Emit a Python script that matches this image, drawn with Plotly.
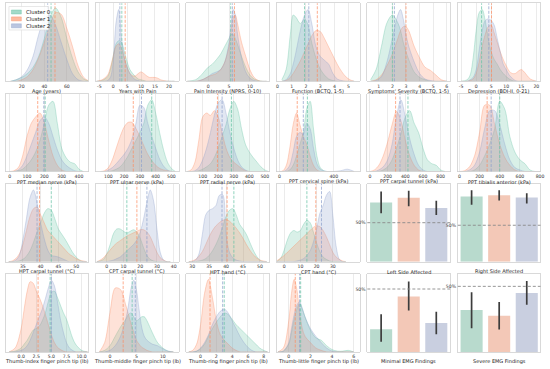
import plotly.graph_objects as go

W, H = 550, 369
CLUSTERS = ["Cluster 0", "Cluster 1", "Cluster 2"]
RGB = ["102,194,165", "252,141,98", "141,160,203"]
BAR_COLORS = ["#b8dacd", "#f3c8b7", "#c9cfe0"]

# ---------------- KDE panels (density, relative height) ----------------
LBL_01 = "Age (years)"
X_01 = [10, 15, 20, 25, 30, 35, 40, 45, 50, 55, 60, 65, 70, 75, 80]
D0_01 = [0.0, 0.02, 0.05, 0.1, 0.18, 0.32, 0.55, 0.82, 0.94, 0.82, 0.55, 0.3, 0.12, 0.03, 0.0]
D1_01 = [0.0, 0.0, 0.02, 0.06, 0.15, 0.3, 0.5, 0.72, 0.88, 0.86, 0.68, 0.45, 0.2, 0.05, 0.0]
D2_01 = [0.0, 0.02, 0.06, 0.15, 0.32, 0.6, 0.8, 0.85, 0.72, 0.5, 0.28, 0.1, 0.02, 0.0, 0.0]
M_01 = [46, 49.5, 43]
T_01 = [20, 40, 60]
R_01 = [5.5, 79]

LBL_02 = "Years with Pain"
X_02 = [-6, -4, -2, -1, 0, 1, 2, 3, 4, 5, 6, 7, 8, 9, 10, 11, 12, 13, 14, 15, 16, 17, 18, 20, 22]
D0_02 = [0, 0.01, 0.06, 0.15, 0.32, 0.48, 0.52, 0.5, 0.38, 0.25, 0.15, 0.1, 0.06, 0.03, 0.02, 0.01, 0, 0, 0, 0, 0, 0, 0, 0, 0]
D1_02 = [0, 0.02, 0.08, 0.18, 0.32, 0.45, 0.48, 0.42, 0.3, 0.18, 0.1, 0.07, 0.07, 0.1, 0.12, 0.1, 0.07, 0.05, 0.05, 0.05, 0.04, 0.02, 0.01, 0, 0]
D2_02 = [0, 0, 0.01, 0.05, 0.25, 0.75, 0.92, 0.55, 0.3, 0.18, 0.1, 0.05, 0.02, 0.01, 0, 0, 0, 0, 0, 0, 0, 0, 0, 0, 0]
M_02 = [3.1, 4.3, 2.4]
T_02 = [-5, 0, 5, 10, 15, 20]
R_02 = [-6.2, 23.5]

LBL_03 = "Pain Intensity (NPRS, 0-10)"
X_03 = [-5, -3, -2, -1, 0, 1, 2, 3, 4, 5, 5.5, 6, 6.5, 7, 7.5, 8, 9, 10, 11, 12, 13, 14]
D0_03 = [0, 0.02, 0.06, 0.12, 0.18, 0.22, 0.28, 0.35, 0.45, 0.55, 0.6, 0.6, 0.55, 0.48, 0.4, 0.32, 0.18, 0.08, 0.03, 0.01, 0, 0]
D1_03 = [0, 0, 0.01, 0.03, 0.06, 0.08, 0.1, 0.15, 0.25, 0.45, 0.65, 0.82, 0.85, 0.75, 0.62, 0.5, 0.32, 0.15, 0.05, 0.01, 0, 0]
D2_03 = [0, 0, 0.01, 0.03, 0.06, 0.1, 0.12, 0.15, 0.25, 0.5, 0.75, 0.92, 0.85, 0.62, 0.45, 0.3, 0.12, 0.04, 0.01, 0, 0, 0]
M_03 = [5.4, 6.3, 5.8]
T_03 = [0, 5, 10]
R_03 = [-5.2, 14.6]

LBL_04 = "Function (BCTQ, 1-5)"
X_04 = [0.3, 0.6, 0.9, 1.1, 1.3, 1.6, 1.9, 2.15, 2.4, 2.7, 3.0, 3.3, 3.6, 3.9, 4.2, 4.5, 4.8, 5.1, 5.4]
D0_04 = [0.02, 0.15, 0.6, 0.85, 0.82, 0.74, 0.8, 0.72, 0.5, 0.3, 0.16, 0.08, 0.03, 0.01, 0, 0, 0, 0, 0]
D1_04 = [0, 0.01, 0.05, 0.1, 0.16, 0.26, 0.38, 0.48, 0.58, 0.65, 0.64, 0.55, 0.44, 0.33, 0.22, 0.13, 0.06, 0.02, 0]
D2_04 = [0, 0.02, 0.1, 0.22, 0.38, 0.65, 0.85, 0.92, 0.75, 0.45, 0.32, 0.27, 0.22, 0.1, 0.03, 0.01, 0, 0, 0]
M_04 = [1.9, 2.8, 2.2]
T_04 = [0, 1, 2, 3, 4, 5]
R_04 = [-0.05, 5.78]

LBL_05 = "Symptoms' Severity (BCTQ, 1-5)"
X_05 = [0.4, 0.8, 1.2, 1.6, 2.0, 2.4, 2.6, 2.8, 3.0, 3.2, 3.6, 4.0, 4.4, 4.8, 5.2, 5.6, 6.0]
D0_05 = [0.02, 0.15, 0.45, 0.75, 0.85, 0.75, 0.65, 0.5, 0.38, 0.28, 0.12, 0.05, 0.02, 0, 0, 0, 0]
D1_05 = [0, 0.02, 0.08, 0.2, 0.35, 0.55, 0.65, 0.7, 0.7, 0.65, 0.45, 0.3, 0.18, 0.14, 0.08, 0.02, 0]
D2_05 = [0, 0.01, 0.06, 0.25, 0.55, 0.85, 0.92, 0.8, 0.6, 0.45, 0.25, 0.1, 0.03, 0.01, 0, 0, 0]
M_05 = [2.0, 3.0, 2.15]
T_05 = [1, 2, 3, 4, 5, 6]
R_05 = [0.16, 6.24]

LBL_06 = "Depression (BDI-II, 0-21)"
X_06 = [-5, -3, -2, -1, 0, 1, 2, 3, 4, 5, 6, 7, 8, 9, 10, 11, 12, 13, 14, 15, 16, 17, 18, 20]
D0_06 = [0, 0.02, 0.08, 0.3, 0.65, 0.88, 0.92, 0.78, 0.55, 0.38, 0.28, 0.22, 0.15, 0.1, 0.06, 0.03, 0.01, 0, 0, 0, 0, 0, 0, 0]
D1_06 = [0, 0, 0.01, 0.03, 0.1, 0.25, 0.45, 0.6, 0.7, 0.72, 0.62, 0.5, 0.38, 0.28, 0.2, 0.13, 0.1, 0.1, 0.13, 0.15, 0.12, 0.07, 0.03, 0]
D2_06 = [0, 0, 0.02, 0.05, 0.15, 0.4, 0.65, 0.78, 0.8, 0.78, 0.72, 0.55, 0.38, 0.22, 0.15, 0.08, 0.04, 0.01, 0, 0, 0, 0, 0, 0]
M_06 = [1.8, 5.1, 4.2]
T_06 = [-5, 0, 5, 10, 15, 20]
R_06 = [-6.1, 21.4]

LBL_07 = "PPT median nerve (kPa)"
X_07 = [0, 25, 50, 75, 100, 125, 150, 175, 200, 225, 250, 275, 300, 325, 350, 375, 400, 425]
D0_07 = [0, 0, 0.01, 0.03, 0.08, 0.15, 0.25, 0.4, 0.62, 0.85, 0.9, 0.62, 0.3, 0.18, 0.12, 0.1, 0.03, 0]
D1_07 = [0, 0.01, 0.05, 0.2, 0.45, 0.62, 0.7, 0.75, 0.62, 0.4, 0.2, 0.08, 0.02, 0, 0, 0, 0, 0]
D2_07 = [0, 0, 0.02, 0.08, 0.2, 0.35, 0.5, 0.65, 0.7, 0.62, 0.45, 0.28, 0.15, 0.08, 0.04, 0.01, 0, 0]
M_07 = [205, 162, 197]
T_07 = [0, 100, 200, 300, 400]
R_07 = [-24, 453]

LBL_08 = "PPT ulnar nerve (kPa)"
X_08 = [50, 75, 100, 125, 150, 175, 200, 225, 250, 275, 300, 325, 350, 375, 400, 425, 450, 475, 500, 525]
D0_08 = [0, 0, 0, 0.01, 0.03, 0.06, 0.12, 0.2, 0.3, 0.4, 0.5, 0.62, 0.85, 0.92, 0.75, 0.5, 0.28, 0.12, 0.04, 0]
D1_08 = [0, 0.01, 0.05, 0.15, 0.3, 0.45, 0.57, 0.63, 0.63, 0.55, 0.45, 0.33, 0.22, 0.14, 0.08, 0.04, 0.02, 0.01, 0, 0]
D2_08 = [0, 0, 0.02, 0.05, 0.1, 0.16, 0.22, 0.3, 0.42, 0.62, 0.85, 0.82, 0.62, 0.45, 0.3, 0.16, 0.07, 0.02, 0, 0]
M_08 = [375, 258, 310]
T_08 = [100, 200, 300, 400, 500]
R_08 = [21, 546]

LBL_09 = "PPT radial nerve (kPa)"
X_09 = [0, 25, 50, 75, 100, 125, 150, 175, 200, 225, 250, 275, 300, 325, 350, 375, 400, 425, 450, 475, 500, 525]
D0_09 = [0, 0, 0, 0.01, 0.03, 0.06, 0.1, 0.18, 0.3, 0.45, 0.6, 0.8, 0.9, 0.8, 0.55, 0.35, 0.25, 0.18, 0.12, 0.06, 0.02, 0]
D1_09 = [0, 0.02, 0.12, 0.4, 0.7, 0.75, 0.72, 0.78, 0.7, 0.5, 0.3, 0.18, 0.12, 0.08, 0.04, 0.01, 0, 0, 0, 0, 0, 0]
D2_09 = [0, 0, 0.01, 0.05, 0.15, 0.3, 0.5, 0.72, 0.88, 0.92, 0.75, 0.5, 0.3, 0.15, 0.06, 0.02, 0, 0, 0, 0, 0, 0]
M_09 = [285, 195, 225]
T_09 = [100, 200, 300, 400, 500]
R_09 = [-5, 528]

LBL_10 = "PPT cervical spine (kPa)"
X_10 = [0, 25, 50, 75, 100, 125, 150, 175, 200, 225, 250, 275, 300, 325, 350, 400, 450, 500, 550]
D0_10 = [0, 0, 0, 0.02, 0.08, 0.2, 0.35, 0.5, 0.8, 0.9, 0.55, 0.2, 0.05, 0.01, 0, 0, 0, 0, 0]
D1_10 = [0, 0.01, 0.08, 0.3, 0.6, 0.75, 0.6, 0.45, 0.35, 0.2, 0.08, 0.02, 0, 0, 0, 0, 0, 0, 0]
D2_10 = [0, 0, 0.02, 0.08, 0.25, 0.45, 0.5, 0.48, 0.62, 0.55, 0.3, 0.1, 0.03, 0.01, 0, 0, 0.01, 0.03, 0]
M_10 = [205, 130, 175]
T_10 = [0, 400]
R_10 = [-20, 590]

LBL_11 = "PPT carpal tunnel (kPa)"
X_11 = [0, 50, 100, 150, 200, 250, 300, 350, 400, 450, 500, 550, 600, 650, 700, 750, 800, 850]
D0_11 = [0, 0, 0, 0.02, 0.06, 0.15, 0.3, 0.48, 0.7, 0.78, 0.62, 0.5, 0.3, 0.15, 0.1, 0.08, 0.02, 0]
D1_11 = [0, 0.02, 0.08, 0.2, 0.38, 0.6, 0.77, 0.65, 0.4, 0.2, 0.08, 0.02, 0, 0, 0, 0, 0, 0]
D2_11 = [0, 0, 0.02, 0.06, 0.15, 0.35, 0.7, 0.92, 0.7, 0.42, 0.22, 0.08, 0.02, 0, 0, 0, 0, 0]
M_11 = [430, 290, 340]
T_11 = [0, 200, 400, 600, 800]
R_11 = [-30, 907]

LBL_12 = "PPT tibialis anterior (kPa)"
X_12 = [0, 50, 100, 150, 200, 250, 300, 350, 400, 450, 500, 550, 600, 650, 700, 750, 800]
D0_12 = [0, 0, 0, 0.02, 0.08, 0.2, 0.35, 0.55, 0.9, 0.8, 0.45, 0.25, 0.15, 0.1, 0.02, 0, 0]
D1_12 = [0, 0.01, 0.06, 0.2, 0.5, 0.85, 0.85, 0.6, 0.35, 0.18, 0.08, 0.02, 0, 0, 0, 0, 0]
D2_12 = [0, 0, 0.02, 0.08, 0.25, 0.55, 0.78, 0.78, 0.6, 0.35, 0.15, 0.05, 0.02, 0, 0, 0, 0]
M_12 = [400, 275, 315]
T_12 = [0, 200, 400, 600, 800]
R_12 = [-16, 805]

LBL_13 = "HPT carpal tunnel (\u00b0C)"
X_13 = [31, 32, 33, 34, 35, 36, 37, 38, 39, 40, 41, 42, 43, 44, 45, 46, 47, 48, 49, 50, 51, 52, 53]
D0_13 = [0, 0, 0, 0.01, 0.03, 0.07, 0.14, 0.25, 0.38, 0.5, 0.62, 0.68, 0.66, 0.55, 0.42, 0.35, 0.28, 0.2, 0.12, 0.06, 0.02, 0, 0]
D1_13 = [0, 0.01, 0.04, 0.1, 0.22, 0.4, 0.58, 0.68, 0.7, 0.6, 0.5, 0.4, 0.35, 0.3, 0.25, 0.2, 0.15, 0.1, 0.07, 0.04, 0.02, 0.01, 0]
D2_13 = [0, 0, 0.02, 0.08, 0.28, 0.55, 0.82, 0.92, 0.75, 0.5, 0.3, 0.15, 0.08, 0.07, 0.06, 0.04, 0.02, 0, 0, 0, 0, 0, 0]
M_13 = [43, 39.7, 39]
T_13 = [35, 40, 45, 50]
R_13 = [30.1, 53.4]

LBL_14 = "CPT carpal tunnel (\u00b0C)"
X_14 = [-6, -4, -2, 0, 2, 4, 6, 8, 10, 12, 14, 16, 18, 20, 22, 24, 26, 28, 30, 32, 34, 36, 38]
D0_14 = [0, 0.01, 0.03, 0.1, 0.22, 0.36, 0.42, 0.42, 0.39, 0.37, 0.39, 0.41, 0.38, 0.3, 0.18, 0.08, 0.03, 0.01, 0, 0, 0, 0, 0]
D1_14 = [0, 0.02, 0.05, 0.1, 0.15, 0.2, 0.24, 0.27, 0.3, 0.33, 0.35, 0.37, 0.39, 0.41, 0.41, 0.38, 0.32, 0.22, 0.12, 0.05, 0.02, 0, 0]
D2_14 = [0, 0, 0, 0, 0.01, 0.02, 0.04, 0.06, 0.1, 0.14, 0.18, 0.22, 0.28, 0.38, 0.55, 0.76, 0.92, 0.78, 0.42, 0.12, 0.02, 0, 0]
M_14 = [12, 18, 24]
T_14 = [0, 10, 20, 30, 40]
R_14 = [-6.5, 43]

LBL_15 = "HPT hand (\u00b0C)"
X_15 = [29, 30, 31, 32, 33, 34, 35, 36, 37, 38, 39, 40, 41, 42, 43, 44, 45, 46, 47, 48, 49, 50, 51, 52]
D0_15 = [0, 0, 0, 0.01, 0.02, 0.04, 0.08, 0.14, 0.22, 0.32, 0.45, 0.58, 0.66, 0.68, 0.6, 0.48, 0.42, 0.35, 0.25, 0.15, 0.07, 0.02, 0, 0]
D1_15 = [0, 0.01, 0.03, 0.07, 0.13, 0.22, 0.32, 0.4, 0.46, 0.5, 0.53, 0.54, 0.52, 0.48, 0.43, 0.37, 0.3, 0.22, 0.15, 0.09, 0.05, 0.02, 0.01, 0]
D2_15 = [0, 0, 0.02, 0.1, 0.35, 0.6, 0.66, 0.68, 0.72, 0.85, 0.86, 0.35, 0.12, 0.05, 0.02, 0.01, 0, 0, 0, 0, 0, 0, 0, 0]
M_15 = [42.3, 40.3, 38.8]
T_15 = [30, 35, 40, 45, 50]
R_15 = [28.3, 52.7]

LBL_16 = "CPT hand (\u00b0C)"
X_16 = [-6, -4, -2, 0, 2, 4, 6, 8, 10, 12, 14, 16, 18, 20, 22, 24, 26, 28, 30, 32, 34, 36, 38]
D0_16 = [0, 0.01, 0.05, 0.15, 0.28, 0.37, 0.4, 0.38, 0.4, 0.48, 0.53, 0.5, 0.38, 0.24, 0.13, 0.06, 0.03, 0.01, 0, 0, 0, 0, 0]
D1_16 = [0, 0.02, 0.05, 0.08, 0.12, 0.16, 0.2, 0.24, 0.28, 0.32, 0.36, 0.4, 0.44, 0.46, 0.45, 0.4, 0.32, 0.22, 0.12, 0.06, 0.03, 0.01, 0]
D2_16 = [0, 0, 0, 0, 0, 0, 0, 0.01, 0.02, 0.04, 0.08, 0.14, 0.25, 0.42, 0.62, 0.72, 0.85, 0.9, 0.6, 0.2, 0.03, 0, 0]
M_16 = [14, 19.5, 23]
T_16 = [0, 10, 20, 30]
R_16 = [-4.5, 46.5]

LBL_17 = "Thumb-index finger pinch tip (lb)"
X_17 = [-2, -1, 0, 0.5, 1, 1.5, 2, 2.5, 3, 3.5, 4, 4.5, 5, 5.5, 6, 6.5, 7, 7.5, 8, 8.5, 9, 10, 11]
D0_17 = [0, 0.01, 0.05, 0.1, 0.15, 0.22, 0.28, 0.3, 0.33, 0.4, 0.5, 0.65, 0.76, 0.78, 0.7, 0.6, 0.5, 0.42, 0.3, 0.18, 0.1, 0.02, 0]
D1_17 = [0, 0.05, 0.3, 0.55, 0.78, 0.9, 0.88, 0.78, 0.7, 0.6, 0.48, 0.35, 0.22, 0.12, 0.06, 0.03, 0.01, 0, 0, 0, 0, 0, 0]
D2_17 = [0, 0, 0.02, 0.04, 0.08, 0.15, 0.25, 0.35, 0.45, 0.55, 0.68, 0.82, 0.92, 0.85, 0.65, 0.42, 0.25, 0.12, 0.05, 0.02, 0, 0, 0]
M_17 = [4.8, 2.8, 5.0]
T_17 = [0, 2.5, 5, 7.5, 10]
TT_17 = ["0.0", "2.5", "5.0", "7.5", "10.0"]
R_17 = [-2.6, 11.1]

LBL_18 = "Thumb-middle finger pinch tip (lb)"
X_18 = [-2, -1, 0, 1, 2, 3, 3.5, 4, 4.5, 5, 5.5, 6, 6.5, 7, 8, 9, 10, 11, 12]
D0_18 = [0, 0.02, 0.08, 0.2, 0.32, 0.42, 0.48, 0.5, 0.45, 0.4, 0.42, 0.45, 0.45, 0.4, 0.25, 0.12, 0.05, 0.01, 0]
D1_18 = [0, 0.12, 0.5, 0.82, 0.8, 0.6, 0.48, 0.36, 0.25, 0.15, 0.1, 0.06, 0.04, 0.02, 0, 0, 0, 0, 0]
D2_18 = [0, 0, 0.02, 0.08, 0.2, 0.42, 0.6, 0.82, 0.92, 0.8, 0.55, 0.32, 0.2, 0.15, 0.1, 0.08, 0.04, 0.01, 0]
M_18 = [4.2, 2.5, 4.8]
T_18 = [0, 5, 10]
R_18 = [-2.65, 13]

LBL_19 = "Thumb-ring finger pinch tip (lb)"
X_19 = [-1.5, -1, -0.5, 0, 0.5, 1, 1.5, 2, 2.5, 3, 3.5, 4, 4.5, 5, 5.5, 6, 6.5, 7, 7.5, 8, 8.5]
D0_19 = [0, 0, 0.01, 0.04, 0.1, 0.2, 0.3, 0.38, 0.45, 0.5, 0.48, 0.42, 0.35, 0.3, 0.25, 0.2, 0.15, 0.1, 0.05, 0.02, 0]
D1_19 = [0, 0.02, 0.1, 0.35, 0.75, 0.93, 0.7, 0.4, 0.22, 0.15, 0.1, 0.05, 0.02, 0, 0, 0, 0, 0, 0, 0, 0]
D2_19 = [0, 0, 0.01, 0.05, 0.12, 0.22, 0.35, 0.45, 0.52, 0.55, 0.5, 0.4, 0.3, 0.2, 0.12, 0.06, 0.02, 0, 0, 0, 0]
M_19 = [3.0, 1.2, 2.8]
T_19 = [0, 2, 4, 6, 8]
R_19 = [-1.8, 8.7]

LBL_20 = "Thumb-little finger pinch tip (lb)"
X_20 = [-1, -0.5, 0, 0.25, 0.5, 0.75, 1, 1.25, 1.5, 2, 2.5, 3, 3.5, 4, 4.5, 5, 5.5, 6]
D0_20 = [0, 0.01, 0.1, 0.25, 0.42, 0.55, 0.62, 0.55, 0.45, 0.28, 0.18, 0.15, 0.08, 0.03, 0.01, 0.01, 0.02, 0]
D1_20 = [0, 0.05, 0.4, 0.75, 0.93, 0.8, 0.5, 0.3, 0.2, 0.12, 0.05, 0.02, 0, 0, 0, 0, 0, 0]
D2_20 = [0, 0.01, 0.12, 0.3, 0.48, 0.6, 0.64, 0.56, 0.45, 0.3, 0.2, 0.12, 0.05, 0.01, 0, 0, 0, 0]
M_20 = [1.1, 0.6, 1.0]
T_20 = [0, 2, 4, 6]
R_20 = [-1.1, 6.55]

# ---------------- Bar panels (proportions with interval ends) ----------------
BAR_LABELS = ["Left Side Affected", "Right Side Affected", "Minimal EMG Findings", "Severe EMG Findings"]
LEFT_VAL = [0.76, 0.82, 0.69]
LEFT_LO = [0.62, 0.71, 0.60]
LEFT_HI = [0.90, 0.91, 0.78]
RIGHT_VAL = [0.895, 0.91, 0.88]
RIGHT_LO = [0.78, 0.84, 0.80]
RIGHT_HI = [0.98, 0.98, 0.94]
MIN_VAL = [0.18, 0.44, 0.23]
MIN_LO = [0.08, 0.33, 0.14]
MIN_HI = [0.30, 0.56, 0.32]
SEV_VAL = [0.32, 0.275, 0.45]
SEV_LO = [0.18, 0.17, 0.36]
SEV_HI = [0.455, 0.38, 0.54]
BAR_YMAX = [1.0, 1.07, 0.62, 0.595]
REF_LEVEL = 0.5

KDE = [
    (LBL_01, X_01, (D0_01, D1_01, D2_01), M_01, T_01, None, R_01),
    (LBL_02, X_02, (D0_02, D1_02, D2_02), M_02, T_02, None, R_02),
    (LBL_03, X_03, (D0_03, D1_03, D2_03), M_03, T_03, None, R_03),
    (LBL_04, X_04, (D0_04, D1_04, D2_04), M_04, T_04, None, R_04),
    (LBL_05, X_05, (D0_05, D1_05, D2_05), M_05, T_05, None, R_05),
    (LBL_06, X_06, (D0_06, D1_06, D2_06), M_06, T_06, None, R_06),
    (LBL_07, X_07, (D0_07, D1_07, D2_07), M_07, T_07, None, R_07),
    (LBL_08, X_08, (D0_08, D1_08, D2_08), M_08, T_08, None, R_08),
    (LBL_09, X_09, (D0_09, D1_09, D2_09), M_09, T_09, None, R_09),
    (LBL_10, X_10, (D0_10, D1_10, D2_10), M_10, T_10, None, R_10),
    (LBL_11, X_11, (D0_11, D1_11, D2_11), M_11, T_11, None, R_11),
    (LBL_12, X_12, (D0_12, D1_12, D2_12), M_12, T_12, None, R_12),
    (LBL_13, X_13, (D0_13, D1_13, D2_13), M_13, T_13, None, R_13),
    (LBL_14, X_14, (D0_14, D1_14, D2_14), M_14, T_14, None, R_14),
    (LBL_15, X_15, (D0_15, D1_15, D2_15), M_15, T_15, None, R_15),
    (LBL_16, X_16, (D0_16, D1_16, D2_16), M_16, T_16, None, R_16),
    (LBL_17, X_17, (D0_17, D1_17, D2_17), M_17, T_17, TT_17, R_17),
    (LBL_18, X_18, (D0_18, D1_18, D2_18), M_18, T_18, None, R_18),
    (LBL_19, X_19, (D0_19, D1_19, D2_19), M_19, T_19, None, R_19),
    (LBL_20, X_20, (D0_20, D1_20, D2_20), M_20, T_20, None, R_20),
]
BARS = [
    (BAR_LABELS[0], LEFT_VAL, LEFT_LO, LEFT_HI, BAR_YMAX[0]),
    (BAR_LABELS[1], RIGHT_VAL, RIGHT_LO, RIGHT_HI, BAR_YMAX[1]),
    (BAR_LABELS[2], MIN_VAL, MIN_LO, MIN_HI, BAR_YMAX[2]),
    (BAR_LABELS[3], SEV_VAL, SEV_LO, SEV_HI, BAR_YMAX[3]),
]

# ---------------- layout geometry (pixels) ----------------
COL_L = [4.5 + i * 91.3 for i in range(6)]
COL_W = 83.5
ROW_T = [3.3 + j * 90.2 for j in range(4)]
ROW_H = 78.0
FONT = "DejaVu Sans"
FRAME = "#cfcfcf"
GRID = "#e6e6e6"
TICK_SIZE = 4.6
LABEL_SIZE = 5.0
LEGEND_SIZE = 5.4
LABEL_GAP = 10.0
FILL_ALPHA = 0.25
EDGE_ALPHA = 0.42
MEAN_ALPHA = 0.8


def rgba(i, a):
    return "rgba(%s,%s)" % (RGB[i], a)


def domains(col, row):
    x0 = COL_L[col] / W
    x1 = (COL_L[col] + COL_W) / W
    y1 = 1 - ROW_T[row] / H
    y0 = 1 - (ROW_T[row] + ROW_H) / H
    return [x0, x1], [y0, y1]


def akey(n, axis):
    return axis + ("axis" if n == 1 else "axis%d" % n)


def aref(n, axis):
    return axis if n == 1 else "%s%d" % (axis, n)


fig = go.Figure()
layout = {}
shapes = []
annotations = []

positions = [(c, r) for r in range(2) for c in range(6)] + [(c, r) for r in range(2, 4) for c in range(4)]

for k, (label, xs, dens, means, ticks, ticktext, xr) in enumerate(KDE):
    n = k + 1
    col, row = positions[k]
    xd, yd = domains(col, row)
    for c in range(3):
        fig.add_trace(go.Scatter(
            x=xs, y=dens[c], mode="lines",
            line=dict(color=rgba(c, EDGE_ALPHA), width=0.8, shape="spline", smoothing=0.9),
            fill="tozeroy", fillcolor=rgba(c, FILL_ALPHA),
            xaxis=aref(n, "x"), yaxis=aref(n, "y"),
            showlegend=False, hoverinfo="skip", name=CLUSTERS[c]))
        shapes.append(dict(type="line", xref=aref(n, "x"), yref=aref(n, "y") + " domain",
                           x0=means[c], x1=means[c], y0=0, y1=1,
                           line=dict(color=rgba(c, MEAN_ALPHA), width=0.9, dash="3px,1.5px")))
    layout[akey(n, "x")] = dict(
        domain=xd, anchor=aref(n, "y"), range=xr, tickvals=ticks,
        ticktext=ticktext if ticktext else [str(t) for t in ticks],
        showgrid=True, gridcolor=GRID, gridwidth=0.8, zeroline=False,
        showline=True, mirror=True, linecolor=FRAME, linewidth=0.8,
        ticks="", ticklen=0, tickfont=dict(size=TICK_SIZE, color="#333", family=FONT))
    layout[akey(n, "y")] = dict(
        domain=yd, anchor=aref(n, "x"), range=[0, 1], showticklabels=False,
        showgrid=False, zeroline=False, showline=True, mirror=True,
        linecolor=FRAME, linewidth=0.8, ticks="", ticklen=0)
    annotations.append(dict(
        xref="paper", yref="paper", x=(xd[0] + xd[1]) / 2,
        y=1 - (ROW_T[row] + ROW_H + LABEL_GAP) / H, text=label, showarrow=False,
        xanchor="center", yanchor="middle",
        font=dict(size=LABEL_SIZE, color="#222", family=FONT)))

bar_pos = [(4, 2), (5, 2), (4, 3), (5, 3)]
for b, (label, vals, lo, hi, ymax) in enumerate(BARS):
    n = len(KDE) + b + 1
    col, row = bar_pos[b]
    xd, yd = domains(col, row)
    fig.add_trace(go.Bar(
        x=[0, 1, 2], y=vals, width=0.8, marker=dict(color=BAR_COLORS, line=dict(width=0)),
        error_y=dict(type="data", symmetric=False,
                     array=[h - v for h, v in zip(hi, vals)],
                     arrayminus=[v - l for v, l in zip(vals, lo)],
                     color="#3d3d3d", thickness=1.7, width=0),
        xaxis=aref(n, "x"), yaxis=aref(n, "y"), showlegend=False, hoverinfo="skip"))
    shapes.append(dict(type="line", xref=aref(n, "x") + " domain", yref=aref(n, "y"),
                       x0=0, x1=1, y0=REF_LEVEL, y1=REF_LEVEL, layer="above",
                       line=dict(color="#8a8a8a", width=0.9, dash="3px,2px")))
    layout[akey(n, "x")] = dict(
        domain=xd, anchor=aref(n, "y"), range=[-0.5, 2.5], showticklabels=False,
        showgrid=False, zeroline=False, showline=True, mirror=True,
        linecolor=FRAME, linewidth=0.8, ticks="", ticklen=0)
    layout[akey(n, "y")] = dict(
        domain=yd, anchor=aref(n, "x"), range=[0, ymax], tickvals=[REF_LEVEL],
        ticktext=["%d%%" % round(REF_LEVEL * 100)], showgrid=False, zeroline=False,
        showline=True, mirror=True, linecolor=FRAME, linewidth=0.8, ticks="", ticklen=0,
        tickfont=dict(size=TICK_SIZE, color="#444", family=FONT))
    annotations.append(dict(
        xref="paper", yref="paper", x=(xd[0] + xd[1]) / 2,
        y=1 - (ROW_T[row] + ROW_H + LABEL_GAP) / H, text=label, showarrow=False,
        xanchor="center", yanchor="middle",
        font=dict(size=LABEL_SIZE, color="#222", family=FONT)))

# legend inside the first panel (drawn as patches + text)
LEG_BOX = (8.0, 6.5, 48.0, 30.0)
shapes.append(dict(type="rect", xref="paper", yref="paper",
                   x0=LEG_BOX[0] / W, x1=LEG_BOX[2] / W,
                   y0=1 - LEG_BOX[3] / H, y1=1 - LEG_BOX[1] / H,
                   fillcolor="rgba(255,255,255,0.85)", line=dict(color="#d8d8d8", width=0.6)))
for c, name in enumerate(CLUSTERS):
    cy = 12.0 + c * 6.9
    shapes.append(dict(type="rect", xref="paper", yref="paper",
                       x0=10.5 / W, x1=20.5 / W, y0=1 - (cy + 2.0) / H, y1=1 - (cy - 2.0) / H,
                       fillcolor=rgba(c, 0.6), line=dict(color=rgba(c, 0.8), width=0.5)))
    annotations.append(dict(xref="paper", yref="paper", x=23.0 / W, y=1 - cy / H,
                            text=name, showarrow=False, xanchor="left", yanchor="middle",
                            font=dict(size=LEGEND_SIZE, color="#222", family=FONT)))

fig.update_layout(
    width=W, height=H, margin=dict(l=0, r=0, t=0, b=0),
    paper_bgcolor="white", plot_bgcolor="white",
    shapes=shapes, annotations=annotations, bargap=0.2,
    font=dict(family=FONT), **layout)

fig.write_html("out.html", config={"displayModeBar": False, "staticPlot": True},
               post_script="document.body.style.margin='0';document.body.style.overflow='hidden';")
